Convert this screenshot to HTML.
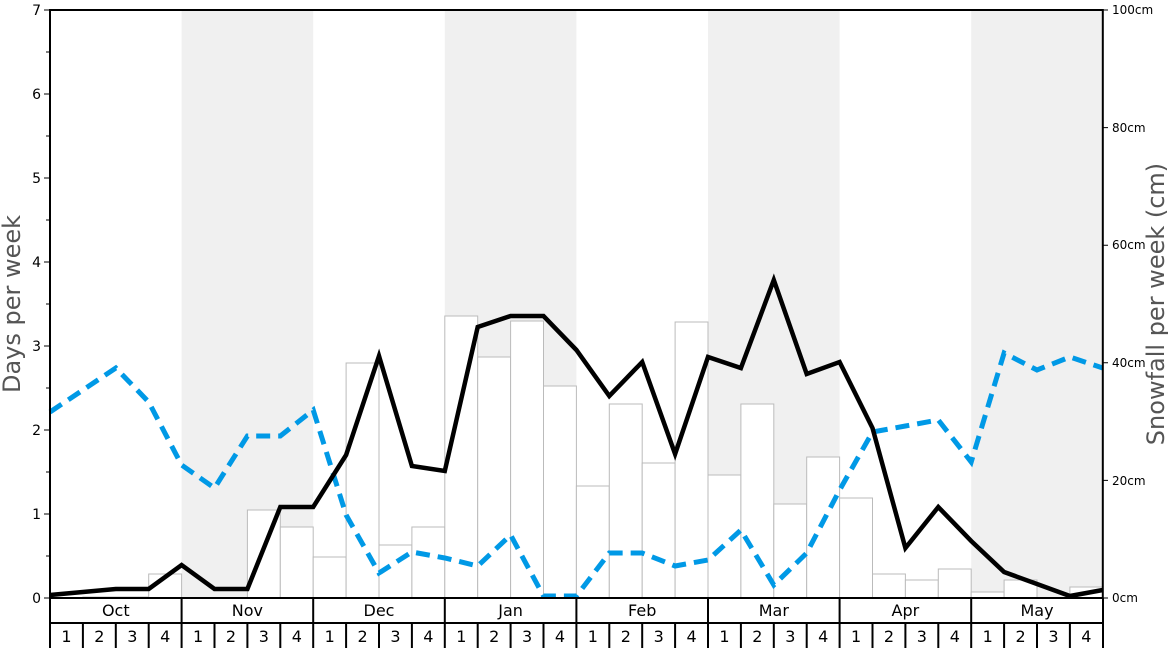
<!DOCTYPE html>
<html><head><meta charset="utf-8"><style>body{margin:0;background:#fff}svg{display:block}text{font-family:"DejaVu Sans","Liberation Sans",sans-serif}</style></head><body>
<svg width="1168" height="648" viewBox="0 0 1168 648">
<g fill="#f0f0f0">
<rect x="181.6" y="10" width="131.6" height="588"/>
<rect x="444.8" y="10" width="131.6" height="588"/>
<rect x="708" y="10" width="131.6" height="588"/>
<rect x="971.2" y="10" width="131.6" height="588"/>
</g>
<g fill="#fff" stroke="#bbb" stroke-width="1">
<rect x="82.9" y="597" width="32.9" height="1"/>
<rect x="115.8" y="597" width="32.9" height="1"/>
<rect x="148.7" y="574" width="32.9" height="24"/>
<rect x="247.4" y="510" width="32.9" height="88"/>
<rect x="280.3" y="527" width="32.9" height="71"/>
<rect x="313.2" y="557" width="32.9" height="41"/>
<rect x="346.1" y="363" width="32.9" height="235"/>
<rect x="379" y="545" width="32.9" height="53"/>
<rect x="411.9" y="527" width="32.9" height="71"/>
<rect x="444.8" y="316" width="32.9" height="282"/>
<rect x="477.7" y="357" width="32.9" height="241"/>
<rect x="510.6" y="321" width="32.9" height="277"/>
<rect x="543.5" y="386" width="32.9" height="212"/>
<rect x="576.4" y="486" width="32.9" height="112"/>
<rect x="609.3" y="404" width="32.9" height="194"/>
<rect x="642.2" y="463" width="32.9" height="135"/>
<rect x="675.1" y="322" width="32.9" height="276"/>
<rect x="708" y="475" width="32.9" height="123"/>
<rect x="740.9" y="404" width="32.9" height="194"/>
<rect x="773.8" y="504" width="32.9" height="94"/>
<rect x="806.7" y="457" width="32.9" height="141"/>
<rect x="839.6" y="498" width="32.9" height="100"/>
<rect x="872.5" y="574" width="32.9" height="24"/>
<rect x="905.4" y="580" width="32.9" height="18"/>
<rect x="938.3" y="569" width="32.9" height="29"/>
<rect x="971.2" y="592" width="32.9" height="6"/>
<rect x="1004.1" y="580" width="32.9" height="18"/>
<rect x="1069.9" y="587" width="32.9" height="11"/>
</g>
<polyline fill="none" stroke="#0099e6" stroke-width="5" stroke-dasharray="14,8" points="50,412 82.9,390 115.8,368 148.7,402 181.6,465 214.5,488 247.4,436 280.3,436 313.2,410 346.1,515 379,573 411.9,552 444.8,558 477.7,566 510.6,535 543.5,596 576.4,596 609.3,553 642.2,553 675.1,566 708,560 740.9,530 773.8,585 806.7,553 839.6,490 872.5,432 905.4,426 938.3,420 971.2,462 1004.1,353 1037,370 1069.9,357 1102.8,368"/>
<polyline fill="none" stroke="#000" stroke-width="4.5" stroke-linejoin="miter" points="50,595 82.9,592 115.8,589 148.7,589 181.6,565 214.5,589 247.4,589 280.3,507 313.2,507 346.1,455 379,356 411.9,466 444.8,471 477.7,327 510.6,316 543.5,316 576.4,350 609.3,396 642.2,362 675.1,454 708,357 740.9,368 773.8,280 806.7,374 839.6,362 872.5,428 905.4,548 938.3,507 971.2,541 1004.1,572 1037,584 1069.9,596 1102.8,590"/>
<rect x="50" y="10" width="1052.8" height="588" fill="none" stroke="#000" stroke-width="2"/>
<g stroke="#000" stroke-width="1">
<path d="M44,598H50M44,514H50M44,430H50M44,346H50M44,262H50M44,178H50M44,94H50M44,10H50M46,556H50M46,472H50M46,388H50M46,304H50M46,220H50M46,136H50M46,52H50"/>
<path d="M1103,598H1108M1103,480.4H1108M1103,362.8H1108M1103,245.2H1108M1103,127.6H1108M1103,10H1108"/>
</g>
<g font-size="14" text-anchor="end" fill="#000">
<text x="41" y="603">0</text><text x="41" y="519">1</text><text x="41" y="435">2</text><text x="41" y="351">3</text><text x="41" y="267">4</text><text x="41" y="183">5</text><text x="41" y="99">6</text><text x="41" y="15">7</text>
</g>
<g font-size="12" fill="#000">
<text x="1112" y="602">0cm</text><text x="1112" y="485">20cm</text><text x="1112" y="367">40cm</text><text x="1112" y="249">60cm</text><text x="1112" y="132">80cm</text><text x="1112" y="14">100cm</text>
</g>
<text transform="translate(20,304) rotate(-90)" font-size="24" fill="#555" text-anchor="middle">Days per week</text>
<text transform="translate(1164,304) rotate(-90)" font-size="24" fill="#555" text-anchor="middle">Snowfall per week (cm)</text>
<g stroke="#000" stroke-width="2" fill="none">
<path d="M50,598V648M50,623H1103M1103,598V648"/>
<path d="M181.6,598V648M313.2,598V648M444.8,598V648M576.4,598V648M708,598V648M839.6,598V648M971.2,598V648"/>
<path d="M82.9,623V648M115.8,623V648M148.7,623V648M214.5,623V648M247.4,623V648M280.3,623V648M346.1,623V648M379,623V648M411.9,623V648M477.7,623V648M510.6,623V648M543.5,623V648M609.3,623V648M642.2,623V648M675.1,623V648M740.9,623V648M773.8,623V648M806.7,623V648M872.5,623V648M905.4,623V648M938.3,623V648M1004.1,623V648M1037,623V648M1069.9,623V648"/>
</g>
<g font-size="16" text-anchor="middle" fill="#000">
<text x="115.8" y="616">Oct</text><text x="247.4" y="616">Nov</text><text x="379" y="616">Dec</text><text x="510.6" y="616">Jan</text><text x="642.2" y="616">Feb</text><text x="773.8" y="616">Mar</text><text x="905.4" y="616">Apr</text><text x="1037" y="616">May</text>
</g>
<g font-size="16" text-anchor="middle" fill="#000">
<text x="66.5" y="642">1</text><text x="99.4" y="642">2</text><text x="132.3" y="642">3</text><text x="165.2" y="642">4</text>
<text x="198.1" y="642">1</text><text x="231" y="642">2</text><text x="263.9" y="642">3</text><text x="296.8" y="642">4</text>
<text x="329.7" y="642">1</text><text x="362.6" y="642">2</text><text x="395.5" y="642">3</text><text x="428.4" y="642">4</text>
<text x="461.3" y="642">1</text><text x="494.2" y="642">2</text><text x="527.1" y="642">3</text><text x="560" y="642">4</text>
<text x="592.9" y="642">1</text><text x="625.8" y="642">2</text><text x="658.7" y="642">3</text><text x="691.6" y="642">4</text>
<text x="724.5" y="642">1</text><text x="757.4" y="642">2</text><text x="790.3" y="642">3</text><text x="823.2" y="642">4</text>
<text x="856.1" y="642">1</text><text x="889" y="642">2</text><text x="921.9" y="642">3</text><text x="954.8" y="642">4</text>
<text x="987.7" y="642">1</text><text x="1020.6" y="642">2</text><text x="1053.5" y="642">3</text><text x="1086.4" y="642">4</text>
</g>
</svg>
</body></html>
